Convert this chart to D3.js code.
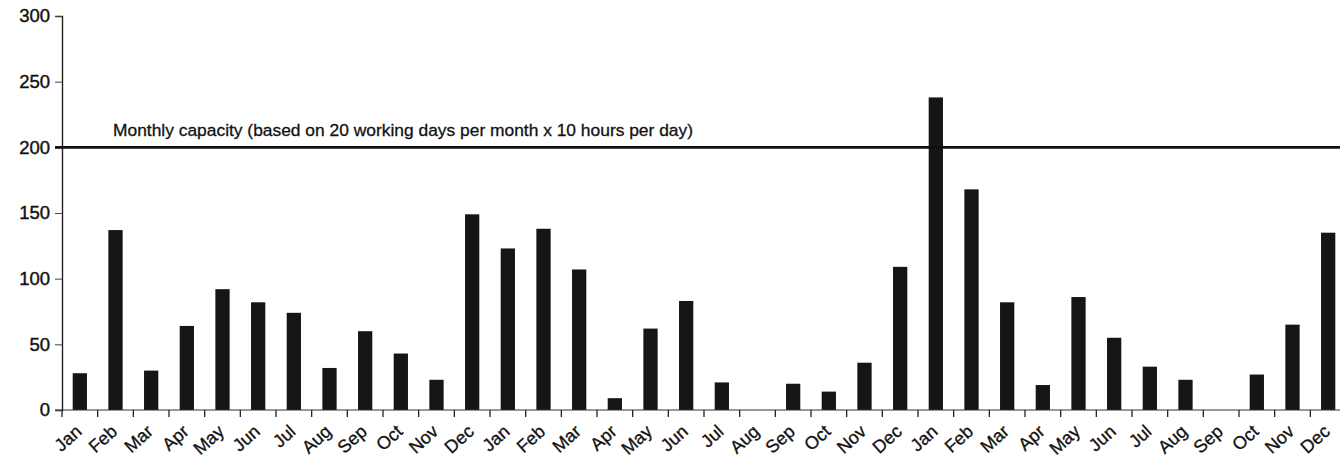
<!DOCTYPE html>
<html>
<head>
<meta charset="utf-8">
<script src="https://cdn.jsdelivr.net/npm/d3@7"></script>
<style>
  body { margin: 0; background: #fff; }
  svg { display: block; font-family: "Liberation Sans", Arial, sans-serif; }
</style>
</head>
<body>
<svg id="chart"></svg>
<script>
const months = ["Jan", "Feb", "Mar", "Apr", "May", "Jun", "Jul", "Aug", "Sep", "Oct", "Nov", "Dec",
  "Jan", "Feb", "Mar", "Apr", "May", "Jun", "Jul", "Aug", "Sep", "Oct", "Nov", "Dec",
  "Jan", "Feb", "Mar", "Apr", "May", "Jun", "Jul", "Aug", "Sep", "Oct", "Nov", "Dec"];
const hours = [28, 137, 30, 64, 92, 82, 74, 32, 60, 43, 23, 149,
  123, 138, 107, 9, 62, 83, 21, 0, 20, 14, 36, 109,
  238, 168, 82, 19, 86, 55, 33, 23, 0, 27, 65, 135];
const yTicks = [0, 50, 100, 150, 200, 250, 300];
const capacity = 200;
const capacityLabel = "Monthly capacity (based on 20 working days per month x 10 hours per day)";

const width = 1340, height = 464;
const svg = d3.select("#chart").attr("width", width).attr("height", height);

const x = d3.scaleBand()
  .domain(d3.range(months.length))
  .range([62, 1346])
  .paddingInner(0.6)
  .paddingOuter(0.3);

const y = d3.scaleLinear().domain([0, 300]).range([410, 16]);

// bars
svg.append("g")
  .selectAll("rect")
  .data(hours)
  .enter()
  .append("rect")
  .attr("x", (d, i) => x(i))
  .attr("width", x.bandwidth())
  .attr("y", d => y(d))
  .attr("height", d => y(0) - y(d))
  .attr("fill", "#151515");

// x axis: baseline with ticks at band boundaries
const step = x.step();
const xStart = x.range()[0];
svg.append("line")
  .attr("x1", 55).attr("x2", width)
  .attr("y1", y(0)).attr("y2", y(0))
  .attr("stroke", "#333").attr("stroke-width", 1.2);

svg.append("g")
  .selectAll("line")
  .data(d3.range(months.length + 1))
  .enter()
  .append("line")
  .attr("x1", i => xStart + i * step)
  .attr("x2", i => xStart + i * step)
  .attr("y1", y(0))
  .attr("y2", y(0) + 7)
  .attr("stroke", "#222").attr("stroke-width", 1.3);

svg.append("g")
  .selectAll("text")
  .data(months)
  .enter()
  .append("text")
  .attr("transform", (d, i) => `translate(${x(i) + x.bandwidth() / 2 + 3},${y(0) + 23}) rotate(-42)`)
  .attr("text-anchor", "end")
  .attr("font-size", 18)
  .attr("fill", "#111")
  .attr("stroke", "#111").attr("stroke-width", 0.3)
  .text(d => d);

// y axis
const yAxis = d3.axisLeft(y).tickValues(yTicks).tickSize(7).tickPadding(5);
const yg = svg.append("g")
  .attr("transform", `translate(${xStart},0)`)
  .call(yAxis);
yg.select(".domain").attr("stroke", "#222").attr("stroke-width", 1.4);
yg.selectAll(".tick line").attr("stroke", "#444").attr("stroke-width", 1);
yg.selectAll(".tick text")
  .attr("font-size", 18.5)
  .attr("font-family", "Liberation Sans, Arial, sans-serif")
  .attr("fill", "#111")
  .attr("stroke", "#111").attr("stroke-width", 0.4);

// capacity line
svg.append("line")
  .attr("x1", 55).attr("x2", width)
  .attr("y1", y(capacity)).attr("y2", y(capacity))
  .attr("stroke", "#111").attr("stroke-width", 2.6);

svg.append("text")
  .attr("x", 113)
  .attr("y", y(capacity) - 11)
  .attr("font-size", 17.4)
  .attr("fill", "#111")
  .attr("stroke", "#111").attr("stroke-width", 0.3)
  .text(capacityLabel);
</script>
</body>
</html>
